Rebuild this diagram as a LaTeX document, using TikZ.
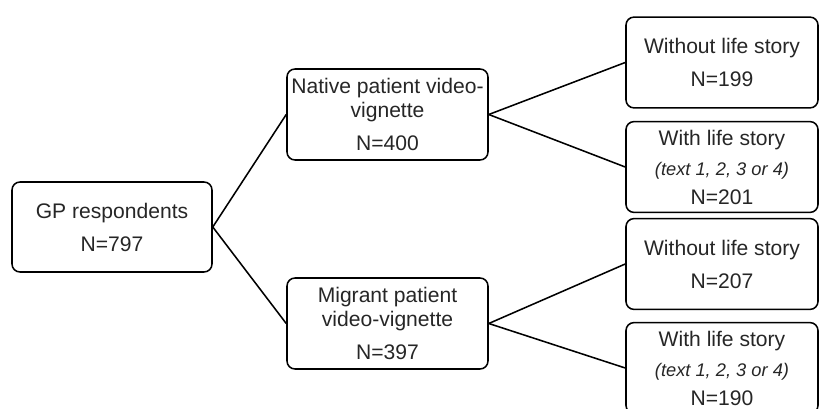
\documentclass[tikz,border=0pt]{standalone}
\usepackage{fontspec}
\setmainfont{Liberation Sans}
\usepackage{tikz}
\usetikzlibrary{positioning}
\tikzset{
  box/.style={
    shape = rectangle,
    draw,
    rounded corners = 0.2cm,
    line width = 1.1pt,
    inner sep = 1pt,
    align = center,
    font = \fontsize{15}{16.5}\selectfont,
    text = black!85
  },
  gpbox/.style={
    box,
    minimum width = 5cm,
    minimum height = 2.25cm
  },
  armbox/.style={
    box,
    minimum width = 5.025cm,
    minimum height = 2.275cm
  },
  storybox/.style={
    box,
    minimum width = 4.8cm,
    minimum height = 2.27cm
  },
  link/.style={
    line width = 1.1pt
  }
}
\newcommand{\textnote}{{\fontsize{13}{16.5}\selectfont\itshape (text 1, 2, 3 or 4)}}

\begin{document}
\begin{tikzpicture}
        \useasboundingbox (0,0) rectangle (20.5,-10.225);
        % first level
        \node[gpbox] (gp) at (2.8,-5.675) {GP respondents\\[7pt]N=797};
        % video vignettes
        \node[armbox] (native) at (9.6875,-2.8625) {Native patient video-\\vignette\\[7pt]N=400};
        \node[armbox] (migrant) at (9.6875,-8.0875) {Migrant patient\\video-vignette\\[7pt]N=397};
        % life story
        \node[storybox] (nativeno) at (18.05,-1.5625) {Without life story\\[7pt]N=199};
        \node[storybox] (nativeyes) at (18.05,-4.175) {With life story\\[5pt]\textnote\\[4pt]N=201};
        \node[storybox] (migrantno) at (18.05,-6.6) {Without life story\\[7pt]N=207};
        \node[storybox] (migrantyes) at (18.05,-9.2) {With life story\\[5pt]\textnote\\[4pt]N=190};
        % connectors
        \draw[link] (gp.east)--(native.west);
        \draw[link] (gp.east)--(migrant.west);
        \draw[link] (native.east)--(nativeno.west);
        \draw[link] (native.east)--(nativeyes.west);
        \draw[link] (migrant.east)--(migrantno.west);
        \draw[link] (migrant.east)--(migrantyes.west);
    \end{tikzpicture}
\end{document}
